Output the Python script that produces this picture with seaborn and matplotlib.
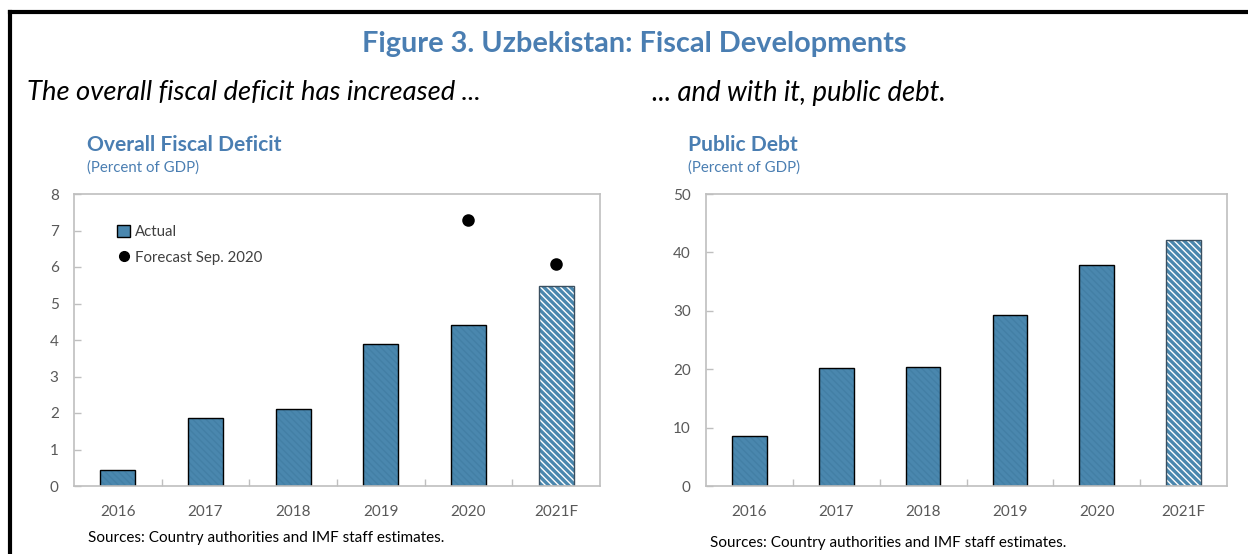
import matplotlib
matplotlib.use("Agg")
import matplotlib.pyplot as plt
from matplotlib.patches import Patch
from matplotlib.lines import Line2D
import seaborn as sns
import pandas as pd

# ---- data -------------------------------------------------------------
years = ["2016", "2017", "2018", "2019", "2020", "2021F"]
deficit = [0.45, 1.85, 2.12, 3.90, 4.42, 5.48]
forecast_years = ["2020", "2021F"]
forecast_deficit = [7.30, 6.08]
debt = [8.5, 20.2, 20.4, 29.3, 37.8, 42.2]

deficit_ticks = [0, 1, 2, 3, 4, 5, 6, 7, 8]
debt_ticks = [0, 10, 20, 30, 40, 50]

# ---- style ------------------------------------------------------------
sns.set_theme(style="white")
plt.rcParams["font.family"] = ["Lato", "DejaVu Sans"]
plt.rcParams["hatch.linewidth"] = 1.0

BLUE = "#4A87AE"
HATCH_DARK = "#437FA5"
TITLE_BLUE = "#4A7EB2"
SPINE = "#BFBFBF"
TICKTXT = "#595959"
HATCH = "\\" * 5

W, H = 1248, 554
fig = plt.figure(figsize=(W / 100, H / 100), dpi=100)


def px_axes(x0, y0, x1, y1):
    return fig.add_axes([x0 / W, 1 - y1 / H, (x1 - x0) / W, (y1 - y0) / H])


def px_text(x, y, s, **kw):
    fig.text(x / W, 1 - y / H, s, **kw)


def draw_bars(ax, values, ymax, ticks):
    df = pd.DataFrame({"year": years, "value": values})
    # filled bars; the patch edge colour drives the hatch stripes
    sns.barplot(data=df, x="year", y="value", order=years, color=BLUE,
                width=0.4, saturation=1, linewidth=0, ax=ax)
    bars = list(ax.patches)
    for yr, p in zip(years, bars):
        p.set_hatch(HATCH)
        p.set_linewidth(0)
        if yr.endswith("F"):
            p.set_edgecolor("white")
        else:
            p.set_edgecolor(HATCH_DARK)
    # outlines on top
    sns.barplot(data=df, x="year", y="value", order=years, color="black",
                width=0.4, saturation=1, fill=False, linewidth=1.0, ax=ax)
    for yr, p in zip(years, ax.patches[len(bars):]):
        p.set_edgecolor("#3A4F60" if yr.endswith("F") else "black")
        p.set_linewidth(1.0)
    ax.set_ylim(0, ymax)
    ax.set_xlim(-0.5, len(years) - 0.5)
    ax.set_yticks(ticks)
    ax.set_xlabel("")
    ax.set_ylabel("")
    ax.set_xticks(range(len(years)))
    ax.set_xticklabels(years)
    ax.set_xticks([i + 0.5 for i in range(len(years) - 1)], minor=True)
    for s in ax.spines.values():
        s.set_visible(True)
        s.set_color(SPINE)
        s.set_linewidth(1.2)
    ax.tick_params(axis="x", which="major", length=0, pad=14,
                   labelsize=11, labelcolor=TICKTXT)
    ax.tick_params(axis="x", which="minor", direction="in", length=5,
                   width=1, color=SPINE, bottom=True)
    ax.tick_params(axis="y", which="major", direction="in", length=5,
                   width=1, color=SPINE, left=True, pad=11,
                   labelsize=11, labelcolor=TICKTXT)


# ---- left panel: overall fiscal deficit --------------------------------
ax1 = px_axes(74, 194, 600, 486)
draw_bars(ax1, deficit, 8, deficit_ticks)
sns.pointplot(x=forecast_years, y=forecast_deficit, order=years,
              color="black", linestyle="none", markers="o",
              markersize=7, ax=ax1)
ax1.set_ylim(0, 8)
ax1.set_xlim(-0.5, len(years) - 0.5)

handles = [
    Patch(facecolor=BLUE, edgecolor="black", linewidth=1.0),
    Line2D([], [], marker="o", color="black", linestyle="none",
           markersize=7),
]
ax1.legend(handles, ["Actual", "Forecast Sep. 2020"], loc="upper left",
           bbox_to_anchor=(0.07, 0.915), frameon=False, fontsize=10.8,
           handlelength=0.9, handleheight=0.9, handletextpad=0.3,
           labelspacing=0.75, borderaxespad=0, labelcolor="#404040")

# ---- right panel: public debt ------------------------------------------
ax2 = px_axes(706, 194, 1227, 486)
draw_bars(ax2, debt, 50, debt_ticks)

# ---- titles and notes -------------------------------------------------
px_text(634, 44, "Figure 3. Uzbekistan: Fiscal Developments", ha="center",
        va="center", fontsize=20.8, fontweight="bold", color=TITLE_BLUE)
px_text(27, 93, "The overall fiscal deficit has increased ...", ha="left",
        va="center", fontsize=19.7, style="italic", color="black")
px_text(652, 93, "... and with it, public debt.", ha="left", va="center",
        fontsize=19.8, style="italic", color="black")

px_text(87, 145, "Overall Fiscal Deficit", ha="left", va="center",
        fontsize=15.1, fontweight="bold", color=TITLE_BLUE)
px_text(87, 168, "(Percent of GDP)", ha="left", va="center",
        fontsize=10.8, color=TITLE_BLUE)
px_text(688, 145, "Public Debt", ha="left", va="center",
        fontsize=15.1, fontweight="bold", color=TITLE_BLUE)
px_text(688, 168, "(Percent of GDP)", ha="left", va="center",
        fontsize=10.8, color=TITLE_BLUE)

px_text(88, 538, "Sources: Country authorities and IMF staff estimates.",
        ha="left", va="center", fontsize=11, color="black")
px_text(710, 543, "Sources: Country authorities and IMF staff estimates.",
        ha="left", va="center", fontsize=11, color="black")

# outer frame (left and top edges)
fig.add_artist(Line2D([9.5 / W, 9.5 / W], [0, 1 - 11.5 / H],
                      color="black", linewidth=3,
                      transform=fig.transFigure, solid_capstyle="projecting"))
fig.add_artist(Line2D([9.5 / W, 1], [1 - 11.5 / H, 1 - 11.5 / H],
                      color="black", linewidth=3,
                      transform=fig.transFigure, solid_capstyle="projecting"))

fig.savefig("out.png", dpi=100, facecolor="white")
